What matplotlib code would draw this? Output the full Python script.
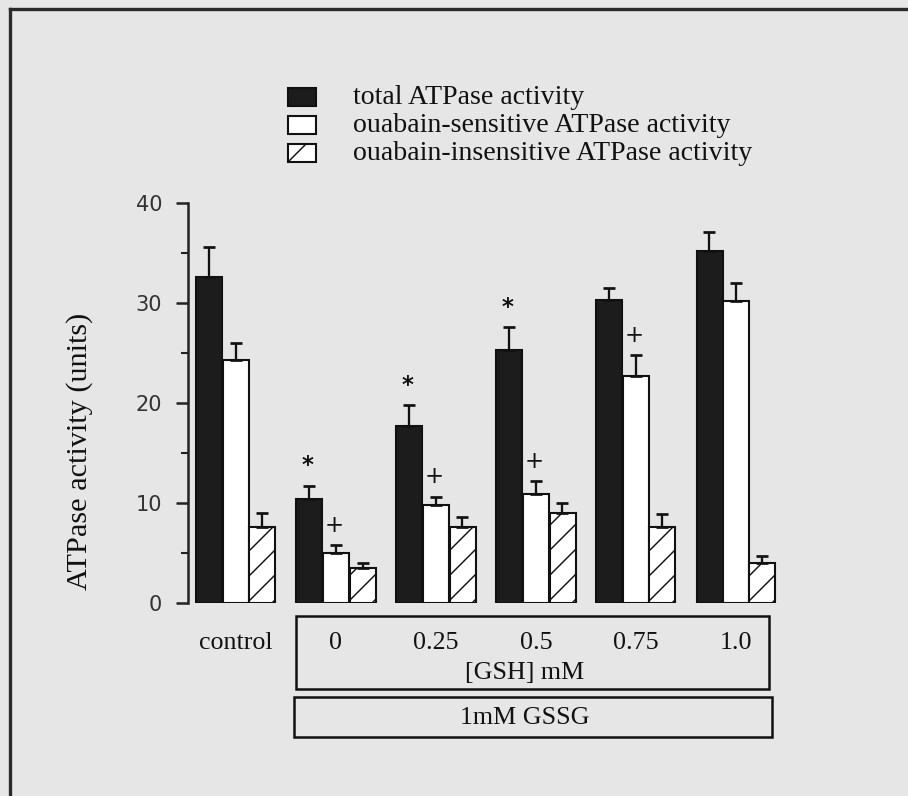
import matplotlib
matplotlib.use("Agg")
import matplotlib.pyplot as plt
from matplotlib.patches import Rectangle
from matplotlib.lines import Line2D
import numpy as np

# ---------------- data ----------------
categories = ["control", "0", "0.25", "0.5", "0.75", "1.0"]
series_names = ["total ATPase activity",
                "ouabain-sensitive ATPase activity",
                "ouabain-insensitive ATPase activity"]
total_vals = [32.6, 10.4, 17.7, 25.3, 30.3, 35.2]
total_err = [3.0, 1.3, 2.1, 2.3, 1.2, 1.9]
sens_vals = [24.3, 5.0, 9.8, 10.9, 22.7, 30.2]
sens_err = [1.7, 0.8, 0.8, 1.3, 2.1, 1.8]
insens_vals = [7.6, 3.5, 7.6, 9.0, 7.6, 4.0]
insens_err = [1.4, 0.5, 1.0, 1.0, 1.3, 0.7]
total_marks = ["", "*", "*", "*", "", ""]
sens_marks = ["", "+", "+", "+", "+", ""]
insens_marks = ["", "", "", "", "", ""]
y_ticks = [0, 10, 20, 30, 40]
y_label = "ATPase activity (units)"
group_label = "[GSH] mM"
box_label = "1mM GSSG"

# ---------------- figure ----------------
W, H, DPI = 909, 796, 150
fig = plt.figure(figsize=(W / DPI, H / DPI), dpi=DPI)
fig.patch.set_facecolor("#e6e6e6")
plt.rcParams["hatch.linewidth"] = 0.7
serif = ["Liberation Serif", "DejaVu Serif"]

def fx(px):
    return px / W

def fy(py):
    return 1 - py / H

ax = fig.add_axes([fx(188), fy(603), fx(598), 400 / H])
ax.set_facecolor("none")

x = np.arange(len(categories))
bw = 0.26
offs = [-0.265, 0.0, 0.265]
styles = [dict(facecolor="#1c1c1c", hatch=None),
          dict(facecolor="white", hatch=None),
          dict(facecolor="white", hatch="//")]
vals = [total_vals, sens_vals, insens_vals]
errs = [total_err, sens_err, insens_err]
marks = [total_marks, sens_marks, insens_marks]

for s in range(3):
    xs = x + offs[s]
    ax.bar(xs, vals[s], width=bw, color=styles[s]["facecolor"],
           edgecolor="#111111", linewidth=1.0, hatch=styles[s]["hatch"],
           zorder=2)
    ax.errorbar(xs, vals[s], yerr=[np.zeros(len(xs)), errs[s]], fmt="none",
                ecolor="#111111", elinewidth=1.1, capsize=3.0, capthick=1.3,
                zorder=3)
    for xi, v, e, m in zip(xs, vals[s], errs[s], marks[s]):
        if m:
            ax.text(xi - 0.02, v + e + 2.0, m, ha="center", va="center",
                    fontsize=11, fontweight="bold" if m == "*" else "normal",
                    color="#111111", family="DejaVu Sans")

ax.set_xlim(-0.48, 5.5)
ax.set_ylim(0, 40)
for sp in ["top", "right", "bottom"]:
    ax.spines[sp].set_visible(False)
ax.spines["left"].set_linewidth(1.2)
ax.spines["left"].set_color("#222222")
ax.set_yticks(y_ticks)
ax.set_yticks([5, 15, 25, 35], minor=True)
ax.tick_params(axis="y", which="major", length=5.8, width=1.2, color="#222222",
               pad=6.5, labelsize=10, labelcolor="#333333")
ax.tick_params(axis="y", which="minor", length=3.5, width=1.0, color="#222222")
for lab in ax.get_yticklabels():
    lab.set_family("DejaVu Sans")
ax.set_xticks(x, categories)
ax.tick_params(axis="x", length=0, pad=14)
for lab in ax.get_xticklabels():
    lab.set_family(serif)
    lab.set_fontsize(12.5)
    lab.set_color("#111111")

# y label
fig.text(fx(80), fy(451), y_label, rotation=90, ha="center", va="center",
         fontsize=14.5, family=serif, color="#111111")

# group boxes
fig.add_artist(Rectangle((fx(296), fy(689)), fx(769 - 296), (689 - 616) / H,
                         fill=False, edgecolor="#111111", linewidth=1.2,
                         transform=fig.transFigure))
fig.text(fx(525), fy(673), group_label, ha="center", va="center",
         fontsize=12.5, family=serif, color="#111111")
fig.add_artist(Rectangle((fx(294), fy(737)), fx(772 - 294), (737 - 697) / H,
                         fill=False, edgecolor="#111111", linewidth=1.2,
                         transform=fig.transFigure))
fig.text(fx(525), fy(718), box_label, ha="center", va="center",
         fontsize=12.5, family=serif, color="#111111")

# legend (manual)
leg_rows = [97, 125, 153]
for s in range(3):
    cy = leg_rows[s]
    fig.add_artist(Rectangle((fx(288), fy(cy + 9)), fx(28), 18 / H,
                             facecolor=styles[s]["facecolor"],
                             hatch="/" if styles[s]["hatch"] else None,
                             edgecolor="#111111",
                             linewidth=1.0, transform=fig.transFigure))
    fig.text(fx(353), fy(cy), series_names[s], ha="left", va="center",
             fontsize=13.4, family=serif, color="#111111")

# outer frame (left and top)
fig.add_artist(Line2D([fx(10), fx(10)], [0, fy(9)], color="#2a2a2a",
                      linewidth=1.6, transform=fig.transFigure))
fig.add_artist(Line2D([fx(10), 1], [fy(9), fy(9)], color="#2a2a2a",
                      linewidth=1.6, transform=fig.transFigure))

fig.savefig("out.png", dpi=DPI, facecolor=fig.get_facecolor())
